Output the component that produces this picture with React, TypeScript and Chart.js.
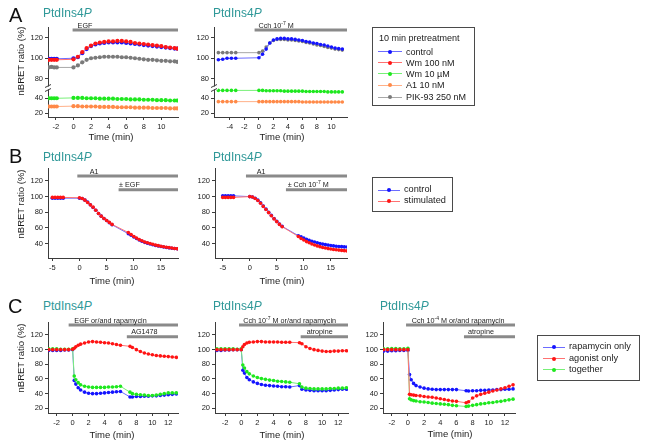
import React, { useEffect, useRef } from 'react';
import { Chart, registerables } from 'chart.js';

Chart.register(...registerables);

const FONT = '"Liberation Sans", Arial, Helvetica, sans-serif';

// ---------- colours ----------
const BLUE = { pt: '#1414ff', ln: '#6c6cff' };
const RED = { pt: '#ff1414', ln: '#ff7272' };
const GREEN = { pt: '#1ee81e', ln: '#78f078' };
const ORANGE = { pt: '#ff8a48', ln: '#ffb088' };
const GRAY = { pt: '#7a7a7a', ln: '#a8a8a8' };

// ---------- tick labels ----------
const xTicksA1 = [-2, 0, 2, 4, 6, 8, 10];
const xTicksA2 = [-4, -2, 0, 2, 4, 6, 8, 10];
const yTicksAtop = [80, 100, 120];
const yTicksAbot = [20, 40];
const xTicksB = [-5, 0, 5, 10, 15];
const yTicksB = [40, 60, 80, 100, 120];
const xTicksC = [-2, 0, 2, 4, 6, 8, 10, 12];
const yTicksC = [20, 40, 60, 80, 100, 120];

// ---------- Panel A, EGF ----------
const tA1 = [-2.8, -2.5, -2.2, -1.9, 0, 0.5, 1, 1.5, 2, 2.5, 3, 3.5, 4, 4.5, 5, 5.5, 6, 6.5, 7, 7.5, 8, 8.5, 9, 9.5, 10, 10.5, 11, 11.5, 11.8];
const a1Control = [99.5, 99.5, 99.5, 99.5, 100, 101, 105, 109, 112, 113.5, 114.5, 115, 115.5, 115.5, 115.5, 115.5, 115, 114.5, 114, 113.5, 113, 112.5, 112, 111.5, 111, 110.5, 110, 109.5, 109.5];
const a1Wm100 = [98.5, 98.5, 98.5, 98.5, 99, 101.5, 106, 110, 112.5, 114.5, 115.5, 116, 116.5, 116.5, 117, 117, 116.5, 116, 115, 114.5, 114, 113.5, 113, 112.5, 112, 111, 110.5, 110, 109.5];
const a1Wm10 = [40, 40, 40, 40, 40.5, 40.5, 40.5, 40, 40, 40, 39.5, 39.5, 39.5, 39.5, 39, 39, 39, 38.5, 38.5, 38.5, 38, 38, 38, 37.5, 37.5, 37.5, 37, 37, 37];
const a1A1 = [29, 29, 29, 29, 29.5, 29.5, 29, 29, 29, 29, 28.5, 28.5, 28.5, 28.5, 28, 28, 28, 28, 27.5, 27.5, 27.5, 27.5, 27, 27, 27, 27, 26.5, 26.5, 26.5];
const a1Pik = [91, 91.5, 91, 91, 91, 93, 96, 98.5, 100, 100.5, 101, 101.5, 101.5, 101.5, 101.5, 101, 101, 100.5, 100, 99.5, 99, 98.5, 98.5, 98, 97.5, 97.5, 97, 97, 96.5];

// ---------- Panel A, Cch ----------
const tA2 = [-5.6, -5.0, -4.4, -3.8, -3.2, 0, 0.5, 1, 1.5, 2, 2.5, 3, 3.5, 4, 4.5, 5, 5.5, 6, 6.5, 7, 7.5, 8, 8.5, 9, 9.5, 10, 10.5, 11, 11.5];
const a2Control = [98.5, 99, 100, 100, 100, 100.5, 104, 109, 115, 118, 119, 119.5, 119.5, 119, 119, 118.5, 118, 117.5, 116.5, 116, 115, 114.5, 113.5, 113, 112, 111, 110, 109.5, 109];
const a2Pik = [105.5, 105.5, 105.5, 105.5, 105.5, 105.5, 107, 111, 115, 117.5, 118.5, 118.5, 118.5, 118, 118, 117.5, 117, 116.5, 115.5, 115, 114, 113, 112.5, 111.5, 110.5, 110, 109, 108.5, 108];
const a2Wm10 = [50.5, 50.5, 50.5, 50.5, 50.5, 50.5, 50.5, 50, 50, 50, 50, 50, 49.5, 49.5, 49.5, 49.5, 49.5, 49.5, 49, 49, 49, 49, 49, 49, 48.5, 48.5, 48.5, 48.5, 48.5];
const a2A1 = [35.5, 35.5, 35.5, 35.5, 35.5, 35.5, 35.5, 35.5, 35.5, 35.5, 35.5, 35.5, 35.5, 35.5, 35.5, 35.5, 35.5, 35, 35, 35, 35, 35, 35, 35, 35, 35, 35, 35, 35];

// ---------- Panel B ----------
const tB = [-5, -4.5, -4, -3.5, -3, 0, 0.5, 1, 1.5, 2, 2.5, 3, 3.5, 4, 4.5, 5, 5.5, 6, 9, 9.5, 10, 10.5, 11, 11.5, 12, 12.5, 13, 13.5, 14, 14.5, 15, 15.5, 16, 16.5, 17, 17.5, 18];
const b1Control = [98, 98, 98, 98, 98, 98, 97.5, 95.5, 93, 89.5, 86, 82.5, 78.5, 75, 72, 69.5, 66.5, 64, 52.5, 50.5, 48.5, 46.5, 44.5, 43, 41.5, 40.5, 39.5, 38.5, 37.5, 37, 36.3, 35.6, 35, 34.5, 34, 33.6, 33.3];
const b1Stim = [99, 99, 99, 99, 99, 98.5, 97.5, 95.5, 92.5, 89.5, 86.5, 82.5, 78.5, 75, 72, 69.5, 67, 64.5, 54, 51.5, 49, 47, 45, 43.5, 42, 41, 40, 39, 38, 37.3, 36.6, 35.9, 35.3, 34.8, 34.2, 33.7, 33.3];
const b2Control = [101, 101, 101, 101, 101, 100, 99.5, 98, 95.5, 92, 88, 84, 80, 76, 72, 68.5, 65, 62, 50, 48.5, 47, 45.5, 44, 43, 42, 41, 40, 39.3, 38.6, 38, 37.4, 37, 36.6, 36.2, 36, 35.7, 35.5];
const b2Stim = [99, 99, 99, 99, 99, 100, 99.5, 97.5, 95, 91.5, 87.5, 83.5, 79.5, 75.5, 71.5, 68, 64.5, 61.5, 49, 46.5, 44.5, 42.5, 41, 39.5, 38.2, 37, 36, 35, 34.2, 33.5, 33, 32.4, 32, 31.6, 31.2, 30.9, 30.6];

// ---------- Panel C ----------
const tC = [-3, -2.5, -2, -1.5, -1, -0.5, 0, 0.2, 0.4, 0.7, 1, 1.5, 2, 2.5, 3, 3.5, 4, 4.5, 5, 5.5, 6, 7.2, 7.5, 8, 8.5, 9, 9.5, 10, 10.5, 11, 11.5, 12, 12.5, 13];
const c1Rapa = [99, 99, 99, 99, 99.5, 99.5, 100, 58, 53, 48, 45, 42, 40.5, 40, 40, 40.5, 41, 41.5, 42, 42.5, 43, 35.5, 35.5, 36, 36, 36.5, 36.5, 37, 37, 37.5, 38, 38.5, 39, 39.5];
const c1Agon = [100, 100, 100, 100, 100, 100, 100.5, 102, 104, 106, 107.5, 109, 110.5, 111, 110.5, 110, 109.5, 109, 108, 107, 106, 104.5, 103, 100, 97.5, 95.5, 94, 93, 92, 91.5, 91, 90.5, 90, 89.5];
const c1Both = [101, 101, 101, 100.5, 100.5, 100.5, 101, 64, 59, 55, 52, 50, 49, 48.5, 48.5, 48.5, 48.5, 49, 49, 49.5, 50, 42, 40, 39, 38.5, 38, 37.5, 37.5, 38, 39, 40, 41, 41, 41];
const c2Rapa = [99, 99, 99.5, 99.5, 100, 100, 100, 72, 68, 62, 59, 56, 54, 52.5, 51.5, 51, 50.5, 50, 49.5, 49.5, 49, 51, 46, 45, 44.5, 44, 44, 44, 44, 44.5, 45, 45.5, 46, 46];
const c2Agon = [100, 100, 100, 100, 100, 100, 100, 104, 107, 109, 110, 110.5, 111, 111, 110.5, 110.5, 110.5, 110.5, 110, 110, 110, 109.5, 108, 104, 101.5, 100, 99, 98, 97.5, 97.5, 98, 98, 98.5, 98.5];
const c2Both = [101, 101, 101, 101, 101, 100.5, 101, 79, 75, 70, 67, 64, 62, 60.5, 59.5, 58.5, 58, 57, 56.5, 56, 55.5, 53.5, 49, 47.5, 47, 46.5, 46.5, 46.5, 46.5, 47, 47, 47.5, 47.5, 48];
const c3Rapa = [98, 98, 98.5, 98.5, 99, 99, 99, 66, 59, 54, 51, 49, 47.5, 46.5, 46, 45.5, 45.5, 45.5, 45.5, 45.5, 45.5, 44, 43.5, 44, 44, 44.5, 44.5, 45, 45, 45.5, 45.5, 46, 46, 46.5];
const c3Agon = [100, 100, 100, 100, 100, 100, 100, 39, 38.5, 38, 37.5, 37, 36, 35.5, 35, 34, 33, 32, 31, 30, 29.5, 27.5, 29, 34, 37, 39, 40.5, 42, 43.5, 45, 46.5, 48, 50, 52];
const c3Both = [101, 101, 101.5, 101.5, 101, 101, 102, 33, 31.5, 30.5, 30, 29, 28.5, 28, 27, 26.5, 26, 25.5, 25, 24, 23.5, 22.5, 23, 24, 25, 26, 26.5, 27.5, 28, 29, 29.5, 30.5, 31.5, 32.5];

// ---------- types ----------
type Col = { pt: string; ln: string };
type Seg = { t: string; sup?: boolean };
type BarSpec = { from: number; dy: number; dx: number; label: Seg[] };
type SeriesSpec = { x: number[]; y: number[]; col: Col; axis?: number };
type YSpec = { min: number; max: number; ticks: number[]; weight?: number };
type PanelSpec = {
  area: [number, number, number, number];
  xMin: number; xMax: number; xTicks: number[];
  y: YSpec[];
  series: SeriesSpec[];
  bars: BarSpec[];
  radius?: number;
};

const cch7: Seg[] = [{ t: 'Cch 10' }, { t: '-7', sup: true }, { t: ' M' }];

const panels: PanelSpec[] = [
  {
    area: [48, 27, 178, 117], xMin: -2.9, xMax: 11.9, xTicks: xTicksA1,
    y: [{ min: 70.8, max: 130.7, ticks: yTicksAtop, weight: 61 }, { min: 15, max: 53.7, ticks: yTicksAbot, weight: 29 }],
    series: [
      { x: tA1, y: a1Wm100, col: RED },
      { x: tA1, y: a1Control, col: BLUE },
      { x: tA1, y: a1Pik, col: GRAY },
      { x: tA1, y: a1Wm10, col: GREEN, axis: 1 },
      { x: tA1, y: a1A1, col: ORANGE, axis: 1 },
    ],
    bars: [{ from: -0.1, dy: 3, dx: 5, label: [{ t: 'EGF' }] }],
    radius: 2.1,
  },
  {
    area: [214, 27, 347, 117], xMin: -6.2, xMax: 12.15, xTicks: xTicksA2,
    y: [{ min: 70.8, max: 130.7, ticks: yTicksAtop, weight: 61 }, { min: 15, max: 53.7, ticks: yTicksAbot, weight: 29 }],
    series: [
      { x: tA2, y: a2Control, col: BLUE },
      { x: tA2, y: a2Pik, col: GRAY },
      { x: tA2, y: a2Wm10, col: GREEN, axis: 1 },
      { x: tA2, y: a2A1, col: ORANGE, axis: 1 },
    ],
    bars: [{ from: -0.6, dy: 3, dx: 4, label: cch7 }],
  },
  {
    area: [48, 168, 178, 258], xMin: -5.8, xMax: 18.14, xTicks: xTicksB,
    y: [{ min: 21.5, max: 136.6, ticks: yTicksB }],
    series: [
      { x: tB, y: b1Stim, col: RED },
      { x: tB, y: b1Control, col: BLUE },
    ],
    bars: [
      { from: -0.4, dy: 8, dx: 12.5, label: [{ t: 'A1' }] },
      { from: 7.2, dy: 21.7, dx: 0.5, label: [{ t: '\u00b1 EGF' }] },
    ],
  },
  {
    area: [215, 168, 347, 258], xMin: -6.43, xMax: 18.0, xTicks: xTicksB,
    y: [{ min: 21.5, max: 136.6, ticks: yTicksB }],
    series: [
      { x: tB, y: b2Stim, col: RED },
      { x: tB, y: b2Control, col: BLUE },
    ],
    bars: [
      { from: -0.7, dy: 8, dx: 10.7, label: [{ t: 'A1' }] },
      { from: 6.7, dy: 21.7, dx: 1.7, label: [{ t: '\u00b1 Cch 10' }, { t: '-7', sup: true }, { t: ' M' }] },
    ],
  },
  {
    area: [48, 322, 178, 413], xMin: -3.09, xMax: 13.22, xTicks: xTicksC,
    y: [{ min: 13.6, max: 137.7, ticks: yTicksC }],
    series: [
      { x: tC, y: c1Agon, col: RED },
      { x: tC, y: c1Both, col: GREEN },
      { x: tC, y: c1Rapa, col: BLUE },
    ],
    bars: [
      { from: -0.5, dy: 3, dx: 5.7, label: [{ t: 'EGF or/and rapamycin' }] },
      { from: 6.8, dy: 14.7, dx: 4.3, label: [{ t: 'AG1478' }] },
    ],
  },
  {
    area: [215, 322, 348, 413], xMin: -3.24, xMax: 13.2, xTicks: xTicksC,
    y: [{ min: 13.6, max: 137.7, ticks: yTicksC }],
    series: [
      { x: tC, y: c2Agon, col: RED },
      { x: tC, y: c2Both, col: GREEN },
      { x: tC, y: c2Rapa, col: BLUE },
    ],
    bars: [
      { from: -0.27, dy: 3, dx: 4.3, label: [{ t: 'Cch 10' }, { t: '-7', sup: true }, { t: ' M or/and rapamycin' }] },
      { from: 7.35, dy: 14.7, dx: 6, label: [{ t: 'atropine' }] },
    ],
  },
  {
    area: [383, 322, 515, 413], xMin: -3.08, xMax: 13.24, xTicks: xTicksC,
    y: [{ min: 13.6, max: 137.7, ticks: yTicksC }],
    series: [
      { x: tC, y: c3Agon, col: RED },
      { x: tC, y: c3Both, col: GREEN },
      { x: tC, y: c3Rapa, col: BLUE },
    ],
    bars: [
      { from: -0.23, dy: 3, dx: 5.7, label: [{ t: 'Cch 10' }, { t: '-4', sup: true }, { t: ' M or/and rapamycin' }] },
      { from: 6.93, dy: 14.7, dx: 4, label: [{ t: 'atropine' }] },
    ],
  },
];

const AXIS = '#3c3c3c';
const PL = 44, PT = 8, PR = 6, PB = 22, YW = 40, XH = 18;

function Panel({ spec }: { spec: PanelSpec }) {
  const ref = useRef<HTMLCanvasElement>(null);
  const [l, t, r, b] = spec.area;
  const cw = r - l + PL + PR;
  const ch = b - t + PT + PB;

  useEffect(() => {
    const tickFont = { family: FONT, size: 7.5 };
    const scales: any = {
      x: {
        type: 'linear', min: spec.xMin, max: spec.xMax,
        afterBuildTicks: (s: any) => { s.ticks = spec.xTicks.map((v) => ({ value: v })); },
        afterFit: (s: any) => { s.height = XH; },
        grid: { drawOnChartArea: false, drawTicks: true, tickLength: 3, color: AXIS },
        border: { display: true, color: AXIS, width: 1 },
        ticks: { font: tickFont, color: '#222', padding: 2, maxRotation: 0, autoSkip: false },
      },
    };
    // left boxes are laid out in reverse order, so the lower section is defined first
    const order = spec.y.map((_, i) => i).reverse();
    order.forEach((i) => {
      const ys = spec.y[i];
      scales['y' + i] = {
        type: 'linear', position: 'left', min: ys.min, max: ys.max,
        ...(spec.y.length > 1 ? { stack: 'brk', stackWeight: ys.weight } : {}),
        afterBuildTicks: (s: any) => { s.ticks = ys.ticks.map((v) => ({ value: v })); },
        afterFit: (s: any) => { s.width = YW; },
        grid: { drawOnChartArea: false, drawTicks: true, tickLength: 3, color: AXIS },
        border: { display: true, color: AXIS, width: 1 },
        ticks: { font: tickFont, color: '#222', padding: 2, autoSkip: false },
      };
    });
    const rad = spec.radius ?? 1.8;
    const datasets = spec.series.map((s) => ({
      data: s.x.map((x, i) => ({ x, y: s.y[i] })),
      yAxisID: 'y' + (s.axis ?? 0),
      borderColor: s.col.ln,
      backgroundColor: s.col.pt,
      pointBackgroundColor: s.col.pt,
      pointBorderWidth: 0,
      pointRadius: rad,
      borderWidth: 1,
      tension: 0,
    }));
    const deco = {
      id: 'deco',
      afterDatasetsDraw(chart: any) {
        const ctx = chart.ctx;
        const ca = chart.chartArea;
        const xs = chart.scales.x;
        ctx.save();
        // axis break
        if (spec.y.length > 1) {
          const yb = Math.max(chart.scales.y0.bottom, chart.scales.y1.top);
          const top0 = chart.scales.y0.top < chart.scales.y1.top;
          const ybrk = top0 ? chart.scales.y0.bottom : chart.scales.y1.bottom;
          const x0 = ca.left;
          void yb;
          ctx.fillStyle = '#fff';
          ctx.fillRect(x0 - 4, ybrk - 1.5, 8, 3);
          ctx.strokeStyle = AXIS;
          ctx.lineWidth = 1;
          ctx.beginPath();
          ctx.moveTo(x0 - 3, ybrk - 0.5); ctx.lineTo(x0 + 3, ybrk - 3.5);
          ctx.moveTo(x0 - 3, ybrk + 3.5); ctx.lineTo(x0 + 3, ybrk + 0.5);
          ctx.stroke();
        }
        // treatment bars
        for (const bar of spec.bars) {
          const x0 = xs.getPixelForValue(bar.from);
          const y = ca.top + bar.dy;
          ctx.strokeStyle = '#8a8a8a';
          ctx.lineWidth = 3;
          ctx.lineCap = 'butt';
          ctx.beginPath();
          ctx.moveTo(x0, y);
          ctx.lineTo(ca.right, y);
          ctx.stroke();
          let x = x0 + bar.dx;
          const base = y - 2.5;
          ctx.fillStyle = '#222';
          ctx.textBaseline = 'alphabetic';
          ctx.textAlign = 'left';
          for (const seg of bar.label) {
            ctx.font = (seg.sup ? '5px ' : '7.2px ') + FONT;
            ctx.fillText(seg.t, x, seg.sup ? base - 3 : base);
            x += ctx.measureText(seg.t).width;
          }
        }
        ctx.restore();
      },
    };
    const chart = new Chart(ref.current as HTMLCanvasElement, {
      type: 'line',
      data: { datasets } as any,
      options: {
        animation: false,
        responsive: false,
        maintainAspectRatio: false,
        devicePixelRatio: 1,
        layout: { padding: { left: PL - YW, top: PT, right: PR, bottom: PB - XH } },
        plugins: { legend: { display: false }, tooltip: { enabled: false } },
        scales,
      } as any,
      plugins: [deco],
    });
    return () => chart.destroy();
  }, []);

  return (
    <canvas
      ref={ref}
      width={cw}
      height={ch}
      style={{ position: 'absolute', left: l - PL, top: t - PT, width: cw, height: ch }}
    />
  );
}

function Txt(props: { x: number; y: number; size: number; children: any; color?: string; center?: boolean; rotate?: boolean }) {
  const { x, y, size, children, color = '#1a1a1a', center, rotate } = props;
  const tx = center || rotate ? '-50%' : '0';
  return (
    <div
      style={{
        position: 'absolute', left: x, top: y, fontFamily: FONT, fontSize: size, lineHeight: 1,
        color, whiteSpace: 'nowrap',
        transform: `translate(${tx}, -50%)${rotate ? ' rotate(-90deg)' : ''}`,
      }}
    >
      {children}
    </div>
  );
}

type LegRow = { label: any; col: Col };
function Legend(props: { box: [number, number, number, number]; rows: LegRow[]; rowY: number[]; lineX: [number, number]; textX: number; size: number; title?: string; titleY?: number }) {
  const { box, rows, rowY, lineX, textX, size, title, titleY } = props;
  return (
    <>
      <div style={{ position: 'absolute', left: box[0], top: box[1], width: box[2], height: box[3], border: '1px solid #4a4a4a', boxSizing: 'border-box' }} />
      {title ? <Txt x={box[0] + 7} y={titleY as number} size={size}>{title}</Txt> : null}
      {rows.map((row, i) => (
        <React.Fragment key={i}>
          <div style={{ position: 'absolute', left: lineX[0], top: rowY[i] - 0.5, width: lineX[1] - lineX[0], height: 1, background: row.col.ln }} />
          <div style={{ position: 'absolute', left: (lineX[0] + lineX[1]) / 2 - 2, top: rowY[i] - 2, width: 4, height: 4, borderRadius: 2, background: row.col.pt }} />
          <Txt x={textX} y={rowY[i]} size={size}>{row.label}</Txt>
        </React.Fragment>
      ))}
    </>
  );
}

const TEAL = '#2f9898';
const Title = ({ x, y }: { x: number; y: number }) => (
  <Txt x={x} y={y} size={12} color={TEAL}>PtdIns4<i>P</i></Txt>
);

export default function App() {
  return (
    <div style={{ position: 'absolute', left: 0, top: 0, width: 645, height: 447, background: '#fff', overflow: 'hidden' }}>
      {panels.map((p, i) => <Panel key={i} spec={p} />)}

      <Txt x={9} y={15} size={20} color="#111">A</Txt>
      <Txt x={9} y={156} size={20} color="#111">B</Txt>
      <Txt x={8} y={306} size={20} color="#111">C</Txt>

      <Title x={43} y={13} />
      <Title x={213} y={13} />
      <Title x={43} y={157} />
      <Title x={213} y={157} />
      <Title x={43} y={306} />
      <Title x={213} y={306} />
      <Title x={380} y={306} />

      <Txt x={21} y={61} size={9.5} rotate>nBRET ratio (%)</Txt>
      <Txt x={21} y={204} size={9.5} rotate>nBRET ratio (%)</Txt>
      <Txt x={21} y={358} size={9.5} rotate>nBRET ratio (%)</Txt>

      <Txt x={111} y={137} size={9.5} center>Time (min)</Txt>
      <Txt x={282} y={137} size={9.5} center>Time (min)</Txt>
      <Txt x={112} y={281} size={9.5} center>Time (min)</Txt>
      <Txt x={282} y={281} size={9.5} center>Time (min)</Txt>
      <Txt x={112} y={435} size={9.5} center>Time (min)</Txt>
      <Txt x={282} y={435} size={9.5} center>Time (min)</Txt>
      <Txt x={450} y={434} size={9.5} center>Time (min)</Txt>

      <Legend
        box={[372, 27, 103, 79]}
        title="10 min pretreatment" titleY={37.5}
        rows={[
          { label: 'control', col: BLUE },
          { label: 'Wm 100 nM', col: RED },
          { label: 'Wm 10 \u00b5M', col: GREEN },
          { label: 'A1 10 nM', col: ORANGE },
          { label: 'PIK-93 250 nM', col: GRAY },
        ]}
        rowY={[51.5, 62.7, 73.5, 85, 97]}
        lineX={[378, 402]} textX={406} size={9}
      />
      <Legend
        box={[372, 177, 81, 35]}
        rows={[
          { label: 'control', col: BLUE },
          { label: 'stimulated', col: RED },
        ]}
        rowY={[190, 201]}
        lineX={[378, 400]} textX={404} size={9.2}
      />
      <Legend
        box={[537, 335, 103, 46]}
        rows={[
          { label: 'rapamycin only', col: BLUE },
          { label: 'agonist only', col: RED },
          { label: 'together', col: GREEN },
        ]}
        rowY={[347, 358.7, 369.7]}
        lineX={[543, 565]} textX={569} size={9.2}
      />
    </div>
  );
}
